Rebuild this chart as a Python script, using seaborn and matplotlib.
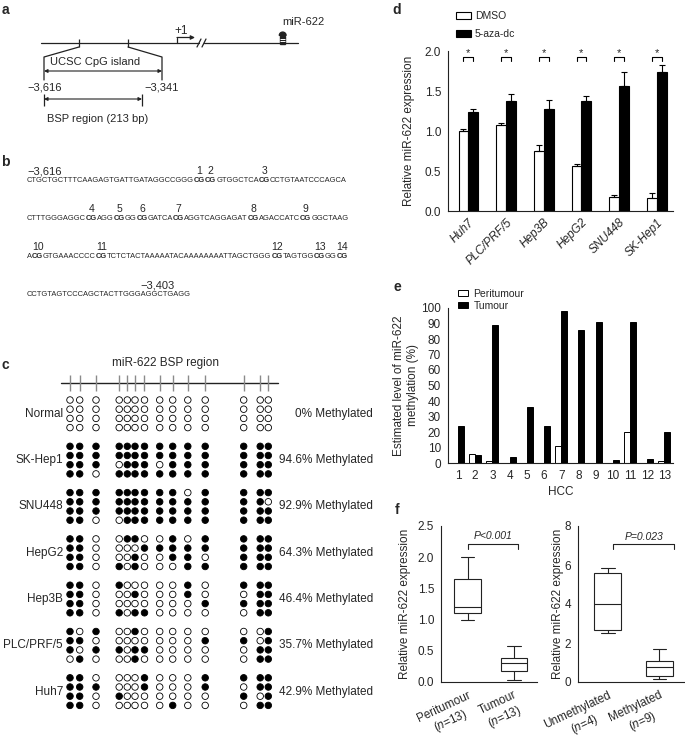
import re
import numpy as np
import pandas as pd
import matplotlib
matplotlib.use("Agg")
import matplotlib.pyplot as plt
import seaborn as sns
from matplotlib import font_manager
from matplotlib.patches import Rectangle, Wedge

# ---------------- data ----------------
# d: miR-622 expression after 5-aza-dc
cell_lines = ["Huh7", "PLC/PRF/5", "Hep3B", "HepG2", "SNU448", "SK-Hep1"]
dmso = [1.00, 1.08, 0.75, 0.56, 0.17, 0.16]
dmso_err = [0.03, 0.02, 0.07, 0.03, 0.03, 0.06]
aza = [1.24, 1.37, 1.28, 1.37, 1.56, 1.74]
aza_err = [0.04, 0.09, 0.11, 0.07, 0.18, 0.09]

# e: methylation level per HCC case
hcc_cases = ["1", "2", "3", "4", "5", "6", "7", "8", "9", "10", "11", "12", "13"]
peritumour = [0, 5.5, 1.5, 0, 0, 0, 11, 0, 0, 0, 20, 0, 1.5]
tumour = [24, 5, 89, 4, 36, 24, 98, 86, 91, 2, 91, 2.5, 20]

# f: five-number summaries (min, q1, median, q3, max)
f1_groups = ["Peritumour\n($\\it{n}$=13)", "Tumour\n($\\it{n}$=13)"]
peri_summary = [1.00, 1.10, 1.20, 1.65, 2.00]
tum_summary = [0.03, 0.17, 0.30, 0.39, 0.58]
f2_groups = ["Unmethylated\n($\\it{n}$=4)", "Methylated\n($\\it{n}$=9)"]
unmeth_summary = [2.50, 2.68, 4.00, 5.57, 5.87]
meth_summary = [0.13, 0.30, 0.75, 1.10, 1.67]

# c: bisulfite sequencing clones (1 = methylated CpG)
c_lines = ["Normal", "SK-Hep1", "SNU448", "HepG2", "Hep3B", "PLC/PRF/5", "Huh7"]
c_percent = ["0%", "94.6%", "92.9%", "64.3%", "46.4%", "35.7%", "42.9%"]
methylation = {
    "Normal": ["00000000000000"] * 4,
    "SK-Hep1": ["11111111111111", "11111111111111", "11101110111111", "11011111111111"],
    "SNU448": ["11111111101111", "11111111111110", "11111111111111", "11001111111111"],
    "HepG2": ["11001100101111", "11000011111111", "11000100110111", "11010100011111"],
    "Hep3B": ["11010000010111", "11000100010011", "11000000001111", "11010110000011"],
    "PLC/PRF/5": ["10100100000001", "11000000001101", "10110110000011", "01000100000011"],
    "Huh7": ["11000010001111", "11100010001011", "11010000000101", "11000000100011"],
}

# b: BSP region sequence, CpG sites in brackets
seq_lines = [
    "CTGCTGCTTTCAAGAGTGATTGATAGGCCGGG[CG][CG]GTGGCTCA[CG]CCTGTAATCCCAGCA",
    "CTTTGGGAGGC[CG]AGG[CG]GG[CG]GATCA[CG]AGGTCAGGAGAT[CG]AGACCATC[CG]GGCTAAG",
    "A[CG]GTGAAACCCC[CG]TCTCTACTAAAAATACAAAAAAAATTAGCTGGG[CG]TAGTGG[CG]GG[CG]",
    "CCTGTAGTCCCAGCTACTTGGGAGGCTGAGG",
]

# ---------------- style ----------------
sns.set_style("white")
plt.rcParams["font.family"] = ["Liberation Sans", "DejaVu Sans"]
plt.rcParams["mathtext.fontset"] = "custom"
plt.rcParams["mathtext.rm"] = "Liberation Sans"
plt.rcParams["mathtext.it"] = "Liberation Sans:italic"
plt.rcParams["axes.linewidth"] = 0.8
plt.rcParams["axes.edgecolor"] = "#222222"
INK = "#222222"
FS = 8.5

# the sequence in b is set in a condensed face; use the narrow Liberation cut if present
try:
    font_manager.findfont(font_manager.FontProperties(family="Liberation Sans Narrow"),
                          fallback_to_default=False)
    SEQ_FAMILY = "Liberation Sans Narrow"
except ValueError:
    SEQ_FAMILY = "Liberation Sans"

W, H = 685, 747
fig = plt.figure(figsize=(W / 100, H / 100), dpi=100)
ov = fig.add_axes([0, 0, 1, 1])
ov.axis("off")
ov.set_xlim(0, W)
ov.set_ylim(H, 0)
renderer = fig.canvas.get_renderer()


def px_axes(x0, y0, x1, y1):
    ax = fig.add_axes([x0 / W, 1 - y1 / H, (x1 - x0) / W, (y1 - y0) / H])
    ax.set_facecolor("none")
    return ax


def panel_letter(x, y, s):
    ov.text(x, y, s, fontsize=10, weight="bold", ha="center", va="center")


# ---------------- a: gene map ----------------
panel_letter(5, 10, "a")
ov.plot([41, 199], [43, 43], color=INK, lw=0.9)
ov.plot([204, 298], [43, 43], color=INK, lw=0.9)
for sx in (199, 204):
    ov.plot([sx - 2, sx + 2], [47, 39], color=INK, lw=0.9)
ov.vlines([79, 128], 39, 47, color=INK, lw=0.9)
ov.plot([79, 44, 44], [47, 57, 80], color=INK, lw=0.9)
ov.plot([128, 162, 162], [47, 57, 80], color=INK, lw=0.9)
arrow = dict(arrowstyle="<|-|>", lw=0.8, color=INK, mutation_scale=5, shrinkA=0, shrinkB=0)
ov.annotate("", xy=(162, 71), xytext=(44, 71), arrowprops=arrow)
ov.text(50, 62, "UCSC CpG island", fontsize=8, ha="left", va="center")
ov.text(45, 87, "\u22123,616", fontsize=8, ha="center", va="center")
ov.text(162, 87, "\u22123,341", fontsize=8, ha="center", va="center")
ov.vlines([44, 142], 94, 106, color=INK, lw=0.9)
ov.annotate("", xy=(142, 99), xytext=(44, 99), arrowprops=arrow)
ov.text(47, 119, "BSP region (213 bp)", fontsize=8, ha="left", va="center")
ov.text(181, 31, "+1", fontsize=8.5, ha="center", va="center")
ov.plot([177, 177], [43, 37.5], color=INK, lw=0.9)
ov.annotate("", xy=(195, 37.5), xytext=(177, 37.5),
            arrowprops=dict(arrowstyle="-|>", lw=0.9, color=INK, mutation_scale=6,
                            shrinkA=0, shrinkB=0))
ov.text(303, 22, "miR-622", fontsize=8, ha="center", va="center")
ov.add_patch(Wedge((282.7, 35.5), 3.4, 180, 360, color=INK))
ov.add_patch(Rectangle((280.4, 35.5), 4.6, 8.5, color=INK))
ov.hlines([38.5, 41], 280.4, 285, color="white", lw=0.7)

# ---------------- b: sequence ----------------
panel_letter(5, 162, "b")
ov.text(27, 171, "\u22123,616", fontsize=8, ha="left", va="center")

# size the sequence font so the first line spans the same width as in the figure
probe = ov.text(0, 0, seq_lines[0].replace("[", "").replace("]", ""), fontsize=10,
                family=SEQ_FAMILY)
seq_fs = 10 * 322 / probe.get_window_extent(renderer).width
probe.remove()

site = 0
for i, line in enumerate(seq_lines):
    y = 181 + 38 * i
    x = 27
    for piece in re.split(r"(\[CG\])", line):
        if not piece:
            continue
        bold = piece == "[CG]"
        txt = "CG" if bold else piece
        t = ov.text(x, y, txt, fontsize=seq_fs, family=SEQ_FAMILY,
                    weight="bold" if bold else "normal", ha="left", va="center")
        w = t.get_window_extent(renderer).width
        if bold:
            site += 1
            ov.text(x + w / 2, y - 10, str(site), fontsize=7.5, ha="center", va="center")
        x += w
ov.text(158, 285, "\u22123,403", fontsize=8, ha="center", va="center")

# ---------------- c: BSP clones ----------------
panel_letter(5, 365, "c")
site_x = [70, 79.7, 96, 119.2, 127.3, 135, 144.5, 159.7, 172.7, 187.8, 205.2, 243.7, 260.2, 268.3]
ov.text(166, 363, "miR-622 BSP region", fontsize=FS, ha="center", va="center")
ov.plot([61, 278], [382.5, 382.5], color=INK, lw=1.0)
ov.vlines(site_x, 375, 391, color="#8a8a8a", lw=1.0)
records = []
for g, name in enumerate(c_lines):
    for r, row in enumerate(methylation[name]):
        for s, ch in enumerate(row):
            records.append({"x": site_x[s], "y": 400 + 46.3 * g + 9.2 * r,
                            "state": "meth" if ch == "1" else "unmeth"})
df_c = pd.DataFrame(records)
sns.scatterplot(data=df_c, x="x", y="y", hue="state",
                palette={"meth": "black", "unmeth": "white"},
                edgecolor="black", linewidth=0.6, s=22, legend=False, ax=ov, zorder=3)
for g, name in enumerate(c_lines):
    yc = 413.8 + 46.3 * g
    ov.text(63, yc, name, fontsize=FS, ha="right", va="center")
    ov.text(373, yc, c_percent[g] + " Methylated", fontsize=FS, ha="right", va="center")

# ---------------- d: bar chart ----------------
panel_letter(397, 10, "d")
ax_d = px_axes(448, 51, 673, 211)
df_d = pd.DataFrame({
    "cell": cell_lines * 2,
    "treatment": ["DMSO"] * 6 + ["5-aza-dc"] * 6,
    "value": dmso + aza,
})
sns.barplot(data=df_d, x="cell", y="value", hue="treatment", palette=["white", "black"],
            edgecolor="black", linewidth=0.8, width=0.52, errorbar=None, ax=ax_d)
centers = []
for cont, errs in zip(ax_d.containers, [dmso_err, aza_err]):
    xs = [b.get_x() + b.get_width() / 2 for b in cont]
    hs = [b.get_height() for b in cont]
    centers.append(xs)
    ax_d.errorbar(xs, hs, yerr=[np.zeros(len(errs)), errs], fmt="none", ecolor="black",
                  elinewidth=0.8, capsize=2.2, capthick=0.8)
for x0, x1 in zip(centers[0], centers[1]):
    ax_d.plot([x0, x0, x1, x1], [1.875, 1.925, 1.925, 1.875], color="black", lw=0.8, clip_on=False)
    ax_d.text((x0 + x1) / 2, 1.975, "*", fontsize=8, ha="center", va="center", clip_on=False)
ax_d.set_ylim(0, 2.0)
ax_d.set_xlim(-0.54, 5.43)
ax_d.set_yticks([0, 0.5, 1.0, 1.5, 2.0])
ax_d.set_yticklabels(["0.0", "0.5", "1.0", "1.5", "2.0"])
ax_d.set_xticks(range(len(cell_lines)))
ax_d.set_xticklabels(cell_lines, rotation=45, ha="right", rotation_mode="anchor", style="italic")
ax_d.tick_params(axis="y", direction="out", length=3, width=0.8, labelsize=FS, pad=2)
ax_d.tick_params(axis="x", length=0, labelsize=FS, pad=4)
ax_d.set_xlabel("")
ax_d.set_ylabel("Relative miR-622 expression", fontsize=FS, va="center")
ax_d.yaxis.set_label_coords(-0.175, 0.5)
sns.despine(ax=ax_d)
h, l = ax_d.get_legend_handles_labels()
ax_d.legend(h, l, loc="upper left", bbox_to_anchor=(456 / W, 1 - 11 / H),
            bbox_transform=fig.transFigure, frameon=False, fontsize=7.5,
            handlelength=1.4, handleheight=0.65, handletextpad=0.4, labelspacing=0.75,
            borderpad=0, borderaxespad=0)

# ---------------- e: methylation bars ----------------
panel_letter(397, 287, "e")
ax_e = px_axes(448, 308, 673, 463)
df_e = pd.DataFrame({
    "case": hcc_cases * 2,
    "tissue": ["Peritumour"] * 13 + ["Tumour"] * 13,
    "value": peritumour + tumour,
})
sns.barplot(data=df_e, x="case", y="value", hue="tissue", palette=["white", "black"],
            edgecolor="black", linewidth=0.7, width=0.7, errorbar=None, ax=ax_e)
ax_e.set_ylim(0, 100)
ax_e.set_xlim(-0.58, 12.5)
ax_e.set_yticks(range(0, 101, 10))
ax_e.tick_params(axis="both", direction="out", length=3, width=0.8, labelsize=FS, pad=2)
ax_e.set_xlabel("HCC", fontsize=FS, labelpad=3)
ax_e.set_ylabel("Estimated level of miR-622\nmethylation (%)", fontsize=FS, va="center")
ax_e.yaxis.set_label_coords(-0.187, 0.5)
sns.despine(ax=ax_e)
h, l = ax_e.get_legend_handles_labels()
ax_e.legend(h, l, loc="upper left", bbox_to_anchor=(458 / W, 1 - 289 / H),
            bbox_transform=fig.transFigure, frameon=False, fontsize=7.5,
            handlelength=1.0, handleheight=0.5, handletextpad=0.5, labelspacing=0.15,
            borderpad=0, borderaxespad=0)

# ---------------- f: box plots ----------------
panel_letter(397, 510, "f")


def box_panel(box, groups, s1, s2, ymax, yticks, ylabels, width, bracket, ptxt):
    ax = px_axes(*box)
    df = pd.DataFrame({"group": [groups[0]] * 5 + [groups[1]] * 5, "value": s1 + s2})
    sns.boxplot(data=df, x="group", y="value", whis=(0, 100), width=width, color="white",
                linecolor=INK, linewidth=0.8, fliersize=0, ax=ax)
    ax.set_ylim(0, ymax)
    ax.set_xlim(-0.58, 1.5)
    ax.set_yticks(yticks)
    ax.set_yticklabels(ylabels)
    ax.set_xticks([0, 1])
    ax.set_xticklabels(groups, rotation=25, ha="right", rotation_mode="anchor",
                       multialignment="center")
    ax.tick_params(axis="both", direction="out", length=3, width=0.8, labelsize=FS, pad=2)
    ax.set_xlabel("")
    ax.set_ylabel("Relative miR-622 expression", fontsize=FS, va="center")
    sns.despine(ax=ax)
    bx0, bx1, by, leg = bracket
    ax.plot([bx0, bx0, bx1, bx1], [by - leg, by, by, by - leg], color=INK, lw=0.8, clip_on=False)
    ax.text(ptxt[0], ptxt[1], ptxt[2], fontsize=7.5, style="italic", ha="center", va="center")
    return ax


ax_f1 = box_panel((441, 526, 537, 682), f1_groups, peri_summary, tum_summary, 2.5,
                  [0, 0.5, 1.0, 1.5, 2.0, 2.5], ["0.0", "0.5", "1.0", "1.5", "2.0", "2.5"],
                  0.58, (0.0, 1.09, 2.21, 0.08), (0.55, 2.34, "P<0.001"))
ax_f1.yaxis.set_label_coords(-0.375, 0.5)
ax_f2 = box_panel((578, 526, 685, 682), f2_groups, unmeth_summary, meth_summary, 8,
                  [0, 2, 4, 6, 8], ["0", "2", "4", "6", "8"],
                  0.52, (0.10, 1.29, 7.08, 0.26), (0.71, 7.42, "P=0.023"))
ax_f2.yaxis.set_label_coords(-0.19, 0.5)

ov.set_xlim(0, W)
ov.set_ylim(H, 0)
fig.savefig("out.png", dpi=100)
